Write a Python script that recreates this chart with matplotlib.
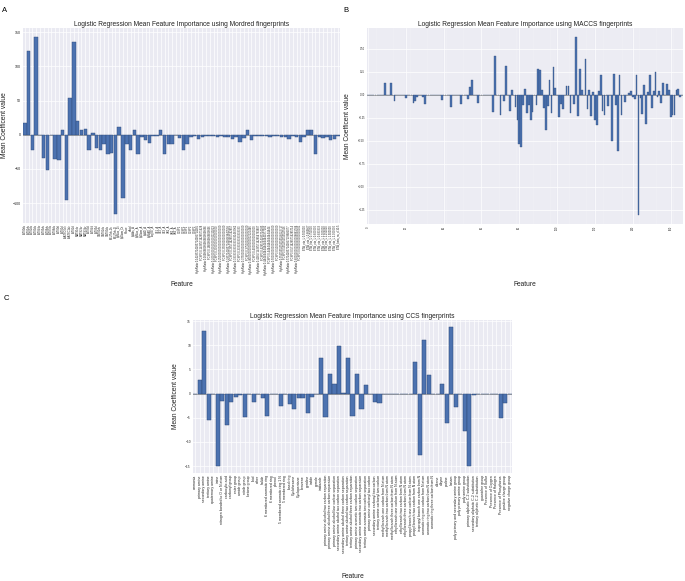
import matplotlib
matplotlib.use('Agg')
import matplotlib.pyplot as plt
import numpy as np

plt.rcParams['font.family'] = ['Liberation Sans', 'DejaVu Sans']

# ---------------- data ----------------
mordred_labels = [
    "ATS0dv", "ATS1dv", "ATS2dv", "ATS3dv", "ATS4dv", "ATS5dv", "ATS6dv", "ATS7dv", "ATS8dv", "ATS0d", "ATS1d",
    "AATSC0dv", "AATSC1dv",
    "ATS2d", "MATS1dv", "MATS2dv", "MATS3dv",
    "ATS3d", "ATS4d", "ATS5d",
    "GATS1dv", "GATS2dv", "GATS3dv",
    "BCUTdv-1h", "BCUTdv-1l",
    "SpMax_Dt", "SpDiam_Dt",
    "nBase",
    "nAcid", "SpAbs_A", "SpMax_A", "SpDiam_A", "SpAD_A", "SpMAD_A", "LogEE_A", "VE1_A", "VE2_A",
    "VE3_A", "VR1_A", "VR2_A", "VR3_A", "C1SP1", "C2SP1", "C1SP2", "C2SP2", "C3SP2",
    "HybRatio 0.14285714285714285714285", "FCSP3 0.1428571428571428",
    "HybRatio 0.16666666666666666666666", "FCSP3 0.1666666666666666",
    "HybRatio 0.20000000000000001110223", "FCSP3 0.2000000000000000",
    "HybRatio 0.25000000000000000000000", "FCSP3 0.2500000000000000",
    "HybRatio 0.28571428571428569842538", "FCSP3 0.2857142857142857",
    "HybRatio 0.33333333333333331482962", "FCSP3 0.3333333333333333",
    "HybRatio 0.37500000000000000000000", "FCSP3 0.3750000000000000",
    "HybRatio 0.40000000000000002220446", "FCSP3 0.4000000000000000",
    "HybRatio 0.42857142857142854763807", "FCSP3 0.4285714285714285",
    "HybRatio 0.44444444444444441977282", "FCSP3 0.4444444444444444",
    "HybRatio 0.50000000000000000000000", "FCSP3 0.5000000000000000",
    "HybRatio 0.55555555555555558022717", "FCSP3 0.5555555555555556",
    "HybRatio 0.57142857142857139685077", "FCSP3 0.5714285714285714",
    "HybRatio 0.60000000000000008881784", "FCSP3 0.6000000000000001",
    "ETA_eta_L 0.500000", "ETA_eta_L 0.666667", "ETA_eta_L 0.750000", "ETA_eta_L 0.800000",
    "ETA_eta_L 0.833333", "ETA_eta_L 1.000000", "ETA_eta_L 1.250000", "ETA_eta_L 1.500000",
    "ETA_eta_L 2.000000", "ETA_beta_ns_d 10.5",
]
mordred_coef = [
    17, 122, -22, 143, -1, -34, -52, 0, -35, -37,
    7, -95, 54, 135, 20, 7, 8, -22, 3, -20,
    -22, -14, -28, -26, -116, 11, -92, -13, -22, 7,
    -28, -4, -8, -12, -2, -2, 7, -28, -13, -14,
    -1, -5, -23, -13, -3, -2, -6, -3, -2, -2,
    -2, -3, -2, -3, -4, -6, -3, -10, -5, 7,
    -7, -2, -2, -2, -2, -3, -2, -2, -3, -4,
    -6, -2, -3, -10, -4, 7, 7, -28, -3, -5,
    -3, -7, -6, -2,
]

maccs_coef = [
    0, 0, 0, 0, 0, 0, 0, 0, 0, 0.13,
    0, 0, 0.13, 0, -0.07, 0, 0, 0, 0, 0,
    -0.036, 0, 0, 0, -0.09, -0.07, -0.025, 0, 0, -0.025,
    -0.10, 0, 0, 0, 0, 0, 0, 0, 0, -0.057,
    0, 0, 0, 0, -0.13, 0, 0, 0, 0, -0.10,
    0, 0, 0, -0.05, 0.09, 0.16, 0, 0, -0.09, 0,
    0, 0, 0, 0, 0, 0, -0.185, 0.42, 0, 0,
    -0.215, 0, -0.07, 0.31, 0, -0.175, 0.047, 0, -0.13, -0.27,
    -0.535, -0.57, -0.11, 0.065, -0.20, -0.115, -0.275, -0.185, 0, -0.11,
    0.285, 0.27, 0.047, -0.14, -0.38, -0.125, 0.16, -0.20, 0.30, 0.075,
    0, -0.24, -0.10, -0.16, 0, 0.095, 0.095, -0.20, 0, -0.10,
    0.63, -0.23, 0.28, 0.054, 0, 0.385, -0.16, 0.054, -0.23, 0.03,
    -0.27, -0.33, 0.036, 0.21, -0.18, -0.225, 0, -0.125, 0, -0.50,
    0.225, -0.11, -0.615, 0.21, -0.215, 0, -0.075, 0, 0.02, 0.036,
    -0.025, -0.05, 0.22, -1.31, -0.03, -0.21, 0.11, -0.32, 0.025, 0.21,
    -0.14, 0.036, 0.25, -0.025, 0.04, -0.095, 0.125, 0, 0.12, 0.054,
    -0.24, -0.22, -0.22, 0.047, 0.06, -0.025, 0,
]
maccs_ticks = [0, 20, 40, 60, 80, 100, 120, 140, 160]

ccs_labels = [
    "ammonia", "primary amine", "secondary amine", "tertiary amine", "quaternary amine", "imine",
    "nitrogen bonded to O or N atom", "carboxylic acid", "carbonyl group", "ester group", "amide group",
    "nitrile group", "ketone group", "thiol", "ether", "halide",
    "6 membered aromatic ring", "6 membered ring", "phenol",
    "5 membered aromatic ring 1 N", "5 membered ring", "fused ring",
    "Cyclohexane", "Cyclopentane", "benzene", "pyridine", "indole", "pyrrole", "imidazole",
    "primary amine alcohol two carbon separation", "primary amine alcohol three carbon separation",
    "primary amine alcohol four carbon separation", "secondary amine alcohol two carbon separation",
    "secondary amine alcohol three carbon separation", "tertiary amine alcohol two carbon separation",
    "tertiary amine alcohol three carbon separation", "primary amine aromatic two carbon separation",
    "secondary amine aromatic two carbon separation", "tertiary amine aromatic two carbon separation",
    "primary amine carbonyl two carbon", "secondary amine carbonyl two carbon",
    "tertiary amine carbonyl two carbon", "methyl branch one carbon from N atom",
    "methyl branch two carbon from N atom", "methyl branch three carbon from N atom",
    "ethyl branch one carbon from N atom", "ethyl branch two carbon from N atom",
    "ethyl branch three carbon from N atom", "propyl branch one carbon from N atom",
    "propyl branch two carbon from N atom", "isopropyl branch one carbon from N",
    "aromatic ring one carbon from N atom", "aromatic ring two carbon from N atom",
    "aromatic ring three carbon from N",
    "alkene", "alkyne", "proline", "lactam",
    "poly primary and secondary amine group", "poly primary amine group", "poly amine group",
    "primary aliphatic C-2 substitution", "secondary aliphatic C-2 substitution",
    "tertiary aliphatic C-2 substitution", "guanidine group",
    "Presence of Sulfur", "Presence of Oxygen", "Presence of Halogen", "Presence of Phosphorus",
    "positive charge group", "negative charge group",
]
ccs_coef = [
    0, 2.9, 12.9, -5.4, 0, -15.0, -1.6, -6.4, -1.7, -0.8,
    -0.3, -4.9, 0, -1.7, 0, -0.9, -4.7, 0, 0, -2.5,
    0, -2.2, -3.2, -1.0, -1.0, -4.1, -0.8, 0, 7.3, -4.8,
    4.0, 1.9, 9.8, 0.2, 7.3, -4.7, 4.0, -3.2, 1.8, 0,
    -1.7, -1.9, 0, -0.1, 0, 0, 0, 0, 0, 6.5,
    -12.8, 11.2, 3.9, 0, 0, 2.0, -6.1, 13.8, -2.7, 0,
    -7.7, -15.0, -0.3, 0, 0, -0.1, 0, 0, -5.1, -2.0,
    0,
]

# ---------------- style ----------------
BAR = '#4C72B0'
EDGE = '#2E4A78'
BG = '#EAEAF2'
TXT = 4.8

fig = plt.figure(figsize=(6.85, 5.81), dpi=100)
W, H = 685.0, 581.0


def make_axes(left, top, right, bottom):
    return fig.add_axes([left / W, 1 - bottom / H, (right - left) / W, (bottom - top) / H])


def style(ax):
    ax.set_facecolor(BG)
    for s in ax.spines.values():
        s.set_visible(False)
    ax.grid(True, which='major', color='white', lw=0.5)
    ax.set_axisbelow(True)
    ax.tick_params(which='both', length=0, pad=1.5, colors='#222222')


def finish(ax, title, ylab_x, xlab_y):
    ax.axhline(0, color='#9a9a9a', lw=0.6, zorder=1.5)
    ax.set_title(title, fontsize=TXT, pad=1.8, color='#222222')
    ax.set_ylabel('Mean Coefficent value', fontsize=TXT, color='#222222')
    ax.set_xlabel('Feature', fontsize=TXT, color='#222222')
    ax.yaxis.set_label_coords(ylab_x, 0.5)
    ax.xaxis.set_label_coords(0.5, xlab_y)


# Panel A
axA = make_axes(23, 28, 340, 223)
style(axA)
xa = np.arange(len(mordred_coef))
axA.bar(xa, mordred_coef, width=0.92, color=BAR, edgecolor=EDGE, lw=0.3, zorder=2)
axA.set_xlim(-0.5, len(mordred_coef) - 0.5)
axA.set_xticks(xa)
axA.set_xticklabels(mordred_labels, rotation=90, fontsize=1.9)
axA.set_yticks([-100, -50, 0, 50, 100, 150])
axA.tick_params(axis='y', labelsize=2.6)
finish(axA, 'Logistic Regression Mean Feature Importance using Mordred fingerprints', -0.047, -0.297)

# Panel B
axB = make_axes(367, 28, 683, 224)
style(axB)
xb = np.arange(len(maccs_coef))
axB.bar(xb, maccs_coef, width=0.9, color=BAR, edgecolor=EDGE, lw=0.25, zorder=2)
axB.set_xlim(-0.5, len(maccs_coef) - 0.5)
axB.set_xticks(maccs_ticks)
axB.set_xticklabels([str(t) for t in maccs_ticks], rotation=90, fontsize=1.8)
axB.set_xticks(xb, minor=True)
axB.grid(True, which='minor', axis='x', color='white', lw=0.25, alpha=0.7)
axB.set_yticks([-1.25, -1.0, -0.75, -0.5, -0.25, 0.0, 0.25, 0.5])
axB.set_yticklabels(['−1.25', '−1.00', '−0.75', '−0.50', '−0.25', '0.00', '0.25', '0.50'])
axB.tick_params(axis='y', labelsize=1.8)
finish(axB, 'Logistic Regression Mean Feature Importance using MACCS fingerprints', -0.051, -0.291)

# Panel C
axC = make_axes(193, 320, 512, 473)
style(axC)
xc = np.arange(len(ccs_coef))
axC.bar(xc, ccs_coef, width=0.92, color=BAR, edgecolor=EDGE, lw=0.35, zorder=2)
axC.set_xlim(-0.5, len(ccs_coef) - 0.5)
axC.set_xticks(xc)
axC.set_xticklabels(ccs_labels, rotation=90, fontsize=2.5)
axC.set_yticks([-15, -10, -5, 0, 5, 10, 15])
axC.tick_params(axis='y', labelsize=2.3)
finish(axC, 'Logistic Regression Mean Feature Importance using CCS fingerprints', -0.044, -0.655)

# panel letters
fig.text(5 / W, 1 - 10.5 / H, 'A', fontsize=5.5, ha='center', va='center')
fig.text(346 / W, 1 - 10.5 / H, 'B', fontsize=5.5, ha='center', va='center')
fig.text(6 / W, 1 - 298 / H, 'C', fontsize=5.5, ha='center', va='center')

fig.savefig('out.png', dpi=100, facecolor='white')
